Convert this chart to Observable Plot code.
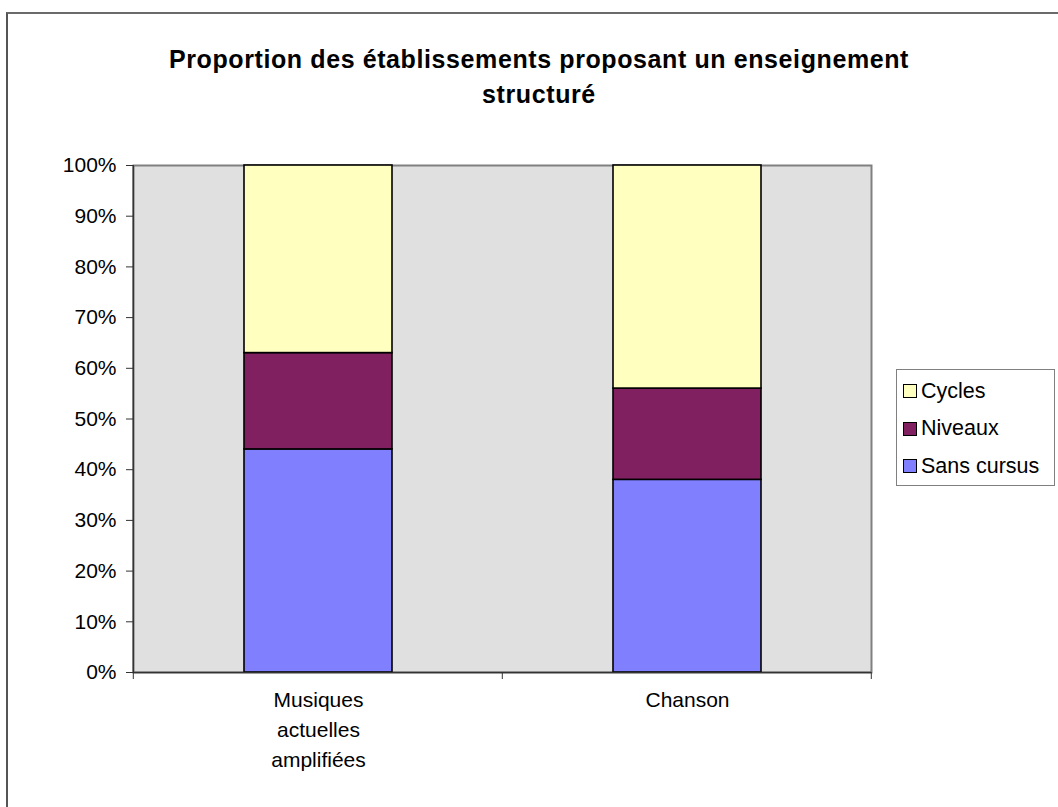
<!DOCTYPE html>
<html>
<head>
<meta charset="utf-8">
<script src="https://cdn.jsdelivr.net/npm/d3@7"></script>
<script src="https://cdn.jsdelivr.net/npm/@observablehq/plot@0.6"></script>
<style>
  html, body { margin: 0; padding: 0; background: #fff; }
  #wrap { position: relative; width: 1058px; height: 807px; overflow: hidden; font-family: "Liberation Sans", Arial, sans-serif; }
  #frame { position: absolute; left: 6px; top: 12px; width: 1100px; height: 900px; border-left: 2px solid #555; border-top: 2px solid #6a6a6a; box-sizing: border-box; }
  #title { position: absolute; left: 39px; width: 1000px; top: 42px; text-align: center; font-weight: bold; font-size: 25px; letter-spacing: 0.6px; line-height: 35px; color: #000; }
  #plot { position: absolute; left: 0; top: 0; }
  #legend { position: absolute; left: 896px; top: 369px; width: 159px; height: 117px; box-sizing: border-box; border: 1px solid #808080; background: #fff; }
  .item { position: absolute; left: 6px; height: 24px; display: flex; align-items: center; font-size: 21.5px; color: #000; white-space: nowrap; }
  .sw { width: 14px; height: 14px; border: 1.5px solid #000; margin-right: 4px; box-sizing: border-box; }
</style>
</head>
<body>
<div id="wrap">
  <div id="frame"></div>
  <div id="plot"></div>
  <div id="title">Proportion des établissements proposant un enseignement<br>structuré</div>
  <div id="legend"></div>
</div>
<script>
// ---- data ----
const categories = ["Musiques actuelles amplifiées", "Chanson"];
const categoryLabels = ["Musiques\nactuelles\namplifiées", "Chanson"];
const series = ["Sans cursus", "Niveaux", "Cycles"];
const sansCursus = [0.44, 0.38];
const niveaux = [0.19, 0.18];
const cycles = [0.37, 0.44];
const seriesColors = ["#8080ff", "#802060", "#ffffc0"];
const yTicks = [0, 0.1, 0.2, 0.3, 0.4, 0.5, 0.6, 0.7, 0.8, 0.9, 1];
const legendOrder = ["Cycles", "Niveaux", "Sans cursus"];

const values = [sansCursus, niveaux, cycles];
const data = [];
series.forEach((s, si) => categories.forEach((c, ci) => data.push({category: c, series: s, value: values[si][ci]})));

const chart = Plot.plot({
  width: 1058,
  height: 807,
  marginTop: 165,
  marginLeft: 133,
  marginRight: 187,
  marginBottom: 135,
  style: {fontFamily: "'Liberation Sans', Arial, sans-serif", background: "transparent", color: "#000"},
  x: {domain: categories, paddingInner: 0.6, paddingOuter: 0.3, axis: null},
  y: {domain: [0, 1], axis: null},
  color: {domain: series, range: seriesColors},
  marks: [
    Plot.frame({fill: "#e0e0e0", stroke: "#808080", strokeWidth: 2}),
    Plot.barY(data, {x: "category", y: "value", fill: "series", order: series, stroke: "#000", strokeWidth: 1.6}),
    Plot.ruleY([0], {stroke: "#333", strokeWidth: 1.5}),
    Plot.axisY({ticks: yTicks, tickFormat: d3.format(".0%"), tickSize: 7, tickPadding: 10, fontSize: 21, label: null, stroke: "#333"}),
    Plot.text(categories, {x: d => d, y: 0, text: (d, i) => categoryLabels[i], lineAnchor: "top", dy: 13, lineHeight: 1.43, fontSize: 21, fill: "#000"})
  ]
});
document.getElementById("plot").appendChild(chart);

// axis line on the left and category boundary ticks, from the plot's scales
const xs = chart.scale("x"), ys = chart.scale("y");
const y0 = ys.apply(0), y1 = ys.apply(1);
const step = xs.step;
const start = xs.apply(categories[0]) - step * 0.3;
const svg = d3.select(chart);
const g = svg.append("g").attr("stroke", "#333").attr("stroke-width", 1.5);
g.append("line").attr("x1", start).attr("x2", start).attr("y1", y1).attr("y2", y0);
for (let i = 0; i <= categories.length; i++) {
  const x = start + i * step;
  g.append("line").attr("x1", x).attr("x2", x).attr("y1", y0).attr("y2", y0 + 7).attr("stroke-width", 1);
}

// legend
const leg = document.getElementById("legend");
legendOrder.forEach((s, i) => {
  const it = document.createElement("div");
  it.className = "item";
  it.style.top = (9 + i * 37.5) + "px";
  const sw = document.createElement("div");
  sw.className = "sw";
  sw.style.background = seriesColors[series.indexOf(s)];
  it.appendChild(sw);
  it.appendChild(document.createTextNode(s));
  leg.appendChild(it);
});
</script>
</body>
</html>
